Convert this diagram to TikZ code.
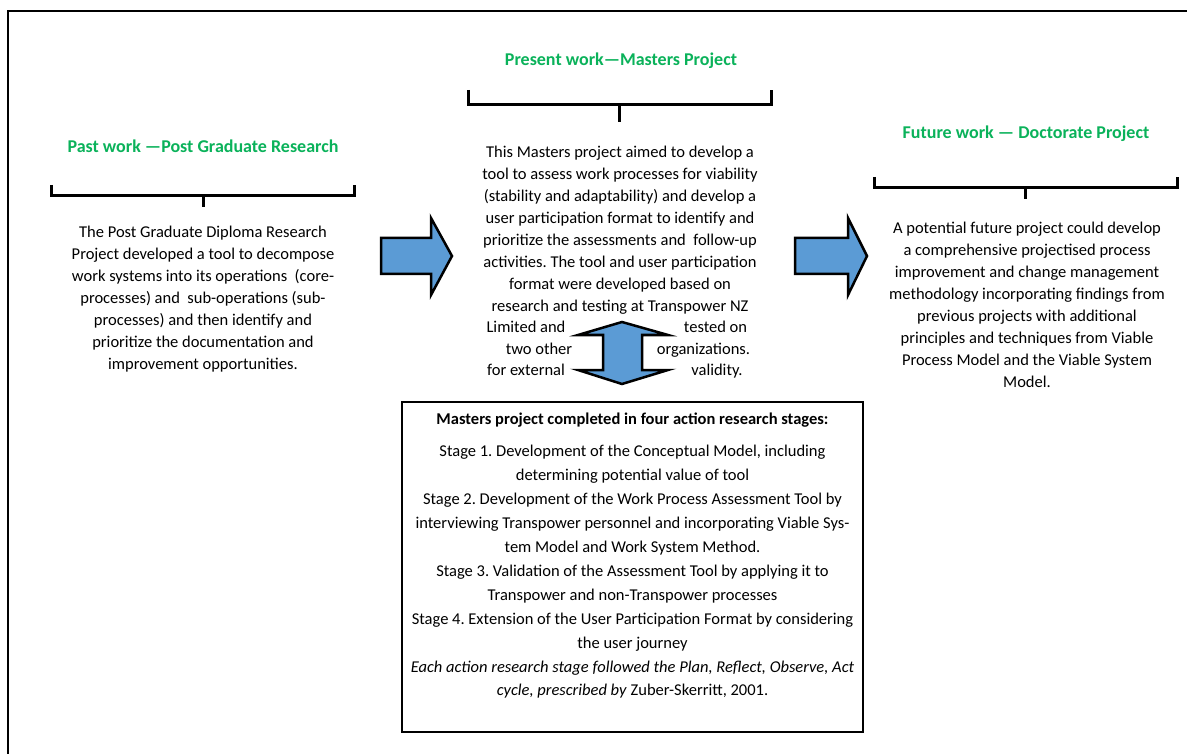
\documentclass[tikz,border=0pt]{standalone}
\usepackage{fontspec}
\setmainfont{Carlito}
\frenchspacing
\definecolor{arrowblue}{RGB}{91,155,213}
\definecolor{titlegreen}{RGB}{10,178,90}
\begin{document}
\begin{tikzpicture}[x=1pt,y=-1pt,
  body/.style={align=center, font=\fontsize{16.5}{22}\selectfont, inner sep=0pt},
  boxbody/.style={align=center, font=\fontsize{16.5}{23.9}\selectfont, inner sep=0pt},
  heading/.style={font=\bfseries\fontsize{18}{21}\selectfont, text=titlegreen, inner sep=0pt},
  piece/.style={font=\fontsize{16.5}{22}\selectfont, inner sep=0pt, text height=11pt, text depth=3.5pt},
  bracket/.style={line width=3pt},
  blockarrow/.style={fill=arrowblue, draw=black, line width=2.5pt, line join=miter}
]
\useasboundingbox (0,0) rectangle (1187,754);
\fill[white] (0,0) rectangle (1187,754);
% outer frame
\draw[line width=2.2pt] (8,760) -- (8,11) -- (1195,11);

% headings
\node[heading] (pasttitle) at (203,146) {Past work \textemdash Post Graduate Research};
\node[heading] (presenttitle) at (621,61) {Present work\textemdash Masters Project};
\node[heading] (futuretitle) at (1026,134) {Future work \textemdash\ Doctorate Project};

% brackets
\draw[bracket] (51,185) -- (51,196) -- (354,196) -- (354,185);
\draw[bracket] (203,196) -- (203,207);
\draw[bracket] (468,90) -- (468,105) -- (771,105) -- (771,90);
\draw[bracket] (619,105) -- (619,122);
\draw[bracket] (874,177) -- (874,188) -- (1177,188) -- (1177,177);
\draw[bracket] (1025,188) -- (1025,199);

% texts
\node[body] (pasttext) at (203,299) {The Post Graduate Diploma Research\\
Project developed a tool to decompose\\
work systems into its operations\ \ (core-\\
processes) and\ \ sub-operations (sub-\\
processes) and then identify and\\
prioritize the documentation and\\
improvement opportunities.};

\node[body] (presenttext) at (620,230) {This Masters project aimed to develop a\\
tool to assess work processes for viability\\
(stability and adaptability) and develop a\\
user participation format to identify and\\
prioritize the assessments and\ \ follow-up\\
activities. The tool and user participation\\
format were developed based on\\
research and testing at Transpower NZ};
\node[piece] (pa) at (526,329) {Limited and};
\node[piece] (pb) at (715.5,329) {tested on};
\node[piece] (pc) at (539,351) {two other};
\node[piece] (pd) at (703.5,351) {organizations.};
\node[piece] (pe) at (526,372) {for external};
\node[piece] (pf) at (717,372) {validity.};

\node[body] (futuretext) at (1027,305) {A potential future project could develop\\
a comprehensive projectised process\\
improvement and change management\\
methodology incorporating findings from\\
previous projects with additional\\
principles and techniques from Viable\\
Process Model and the Viable System\\
Model.};

% block arrows
\draw[blockarrow] (381,238) -- (431,238) -- (431,218) -- (452,256) -- (431,295) -- (431,274) -- (381,274) -- cycle;
\draw[blockarrow] (795,238) -- (848,238) -- (848,218) -- (867,256) -- (848,295) -- (848,274) -- (795,274) -- cycle;
\draw[blockarrow] (622,322) -- (668,335) -- (642,335) -- (642,370) -- (668,370) -- (622,384) -- (578,370) -- (603,370) -- (603,335) -- (578,335) -- cycle;

% stages box
\node[draw, line width=1.5pt, minimum width=461pt, minimum height=330pt, inner sep=0pt] (stagesbox) at (632.5,567) {};
\node[inner sep=0pt, font=\bfseries\fontsize{16.5}{20}\selectfont] (stagestitle) at (632.5,420) {Masters project completed in four action research stages:};
\node[boxbody] (stagestext) at (632.5,572) {Stage 1. Development of the Conceptual Model, including\\
determining potential value of tool\\
Stage 2. Development of the Work Process Assessment Tool by\\
interviewing Transpower personnel and incorporating Viable Sys-\\
tem Model and Work System Method.\\
Stage 3. Validation of the Assessment Tool by applying it to\\
Transpower and non-Transpower processes\\
Stage 4. Extension of the User Participation Format by considering\\
the user journey\\
\textit{Each action research stage followed the Plan, Reflect, Observe, Act}\\
\textit{cycle, prescribed by} Zuber-Skerritt, 2001.};
\end{tikzpicture}
\end{document}
